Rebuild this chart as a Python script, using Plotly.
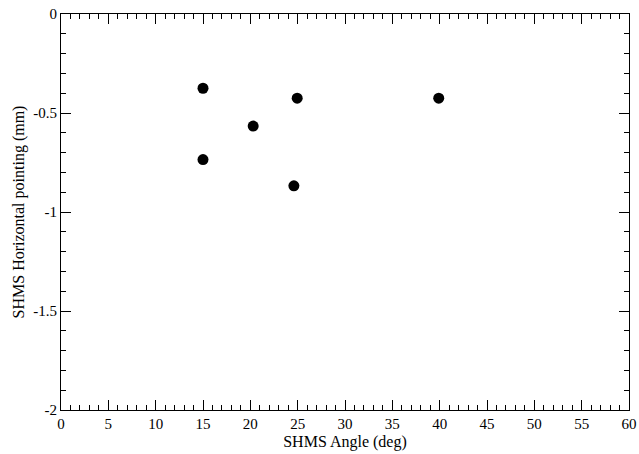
import plotly.graph_objects as go

angle_deg = [15.0, 15.0, 20.3, 24.6, 24.95, 39.9]
horiz_mm = [-0.375, -0.735, -0.566, -0.868, -0.425, -0.425]

x_ticks = [0, 5, 10, 15, 20, 25, 30, 35, 40, 45, 50, 55, 60]
y_ticks = [0, -0.5, -1, -1.5, -2]
y_tick_text = ["0", "-0.5", "-1", "-1.5", "-2"]

fig = go.Figure()
fig.add_trace(go.Scatter(
    x=angle_deg, y=horiz_mm, mode="markers",
    marker=dict(color="black", size=11, symbol="circle"),
    showlegend=False,
))

font = dict(family="Liberation Serif, Times New Roman, serif", color="black")
axis_common = dict(
    showgrid=False, zeroline=False, showline=True, linecolor="black", linewidth=1,
    mirror="allticks", ticks="inside", ticklen=10, tickwidth=1, tickcolor="black",
    tickfont=dict(size=15, **font), automargin=False,
)
fig.update_xaxes(
    range=[0, 60], tickvals=x_ticks, ticktext=[str(v) for v in x_ticks],
    minor=dict(dtick=1, ticks="inside", ticklen=5, tickcolor="black", tickwidth=1),
    title=dict(text="SHMS Angle (deg)", font=dict(size=16, **font), standoff=4),
    **axis_common,
)
fig.update_yaxes(
    range=[-2, 0], tickvals=y_ticks, ticktext=y_tick_text,
    minor=dict(dtick=0.1, ticks="inside", ticklen=5, tickcolor="black", tickwidth=1),
    title=dict(text="SHMS Horizontal pointing (mm)", font=dict(size=16, **font), standoff=4),
    **axis_common,
)
fig.update_layout(
    width=639, height=454,
    margin=dict(l=61, r=10, t=14, b=44),
    plot_bgcolor="white", paper_bgcolor="white",
    font=font,
)
fig.write_html("out.html", config={"displayModeBar": False},
               post_script="document.body.style.margin='0';")
